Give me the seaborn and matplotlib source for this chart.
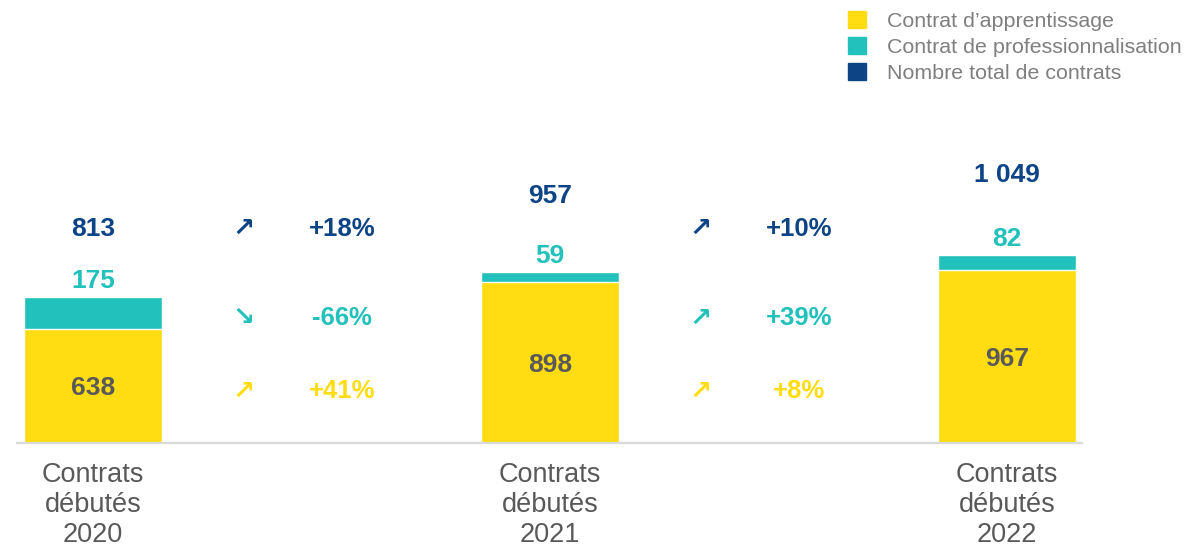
import matplotlib
matplotlib.use("Agg")
import matplotlib.pyplot as plt
from matplotlib.patches import Patch
import seaborn as sns

# Données
annees = ["2020", "2021", "2022"]
categories = ["Contrats\ndébutés\n" + a for a in annees]
apprentissage = [638, 898, 967]
professionnalisation = [175, 59, 82]
totaux = [a + p for a, p in zip(apprentissage, professionnalisation)]

series = ["Contrat d\u2019apprentissage", "Contrat de professionnalisation", "Nombre total de contrats"]

# Couleurs
JAUNE = "#FFDD12"
TURQUOISE = "#22C1BC"
BLEU = "#0D4486"
GRIS = "#595959"
GRIS_LEG = "#7F7F7F"

sns.set_theme(style="white")
plt.rcParams["font.family"] = ["Liberation Sans", "DejaVu Sans"]

fig = plt.figure(figsize=(11.84, 5.47), dpi=100)
ax = fig.add_axes([17 / 1184, 104 / 547, 1065 / 1184, 343 / 547])

# Barres empilées : total (turquoise) puis apprentissage (jaune) par-dessus
sns.barplot(x=categories, y=totaux, color=TURQUOISE, width=0.302, saturation=1, ax=ax)
sns.barplot(x=categories, y=apprentissage, color=JAUNE, width=0.302, saturation=1, ax=ax)

ax.set_xlim(-0.1663, 2.164)
ax.set_ylim(0, 1916)
ax.set_yticks([])
ax.set_ylabel("")
for s in ["top", "left", "right"]:
    ax.spines[s].set_visible(False)
ax.spines["bottom"].set_color("#D9D9D9")
ax.spines["bottom"].set_linewidth(1.6)
ax.tick_params(axis="x", length=0, pad=14, labelsize=19.5, labelcolor=GRIS)
for lbl in ax.get_xticklabels():
    lbl.set_linespacing(1.2)

fs = 19
for i in range(len(annees)):
    ax.text(i, apprentissage[i] / 2, str(apprentissage[i]), ha="center", va="center_baseline",
            fontsize=fs, fontweight="bold", color=GRIS)
    ax.annotate(str(professionnalisation[i]), (i, totaux[i]), xytext=(0, 3),
                textcoords="offset points", ha="center", va="bottom",
                fontsize=fs, fontweight="bold", color=TURQUOISE)
    ax.text(i, totaux[i] * 1.3 + 150, f"{totaux[i]:,}".replace(",", " "), ha="center",
            va="center_baseline", fontsize=fs, fontweight="bold", color=BLEU)

# Évolutions entre années
lignes = [(totaux, BLEU, 1210), (professionnalisation, TURQUOISE, 710), (apprentissage, JAUNE, 302)]
for valeurs, couleur, y in lignes:
    for i in range(len(annees) - 1):
        evol = round((valeurs[i + 1] / valeurs[i] - 1) * 100)
        fleche = "\u2197" if evol >= 0 else "\u2198"
        ax.text(i + 0.33, y, fleche, ha="center", va="center_baseline", fontsize=19,
                fontweight="bold", color=couleur)
        ax.text(i + 0.545, y, f"{evol:+d}%", ha="center", va="center_baseline", fontsize=18.5,
                fontweight="bold", color=couleur)

# Légende
handles = [Patch(color=c) for c in [JAUNE, TURQUOISE, BLEU]]
fig.legend(handles, series, loc="upper left", bbox_to_anchor=(848 / 1184, 1 - 11 / 547),
           frameon=False, borderpad=0, borderaxespad=0, handlelength=0.84, handleheight=0.84,
           handletextpad=0.98, labelspacing=0.28, fontsize=15.4, labelcolor=GRIS_LEG)

fig.savefig("out.png", dpi=100)
